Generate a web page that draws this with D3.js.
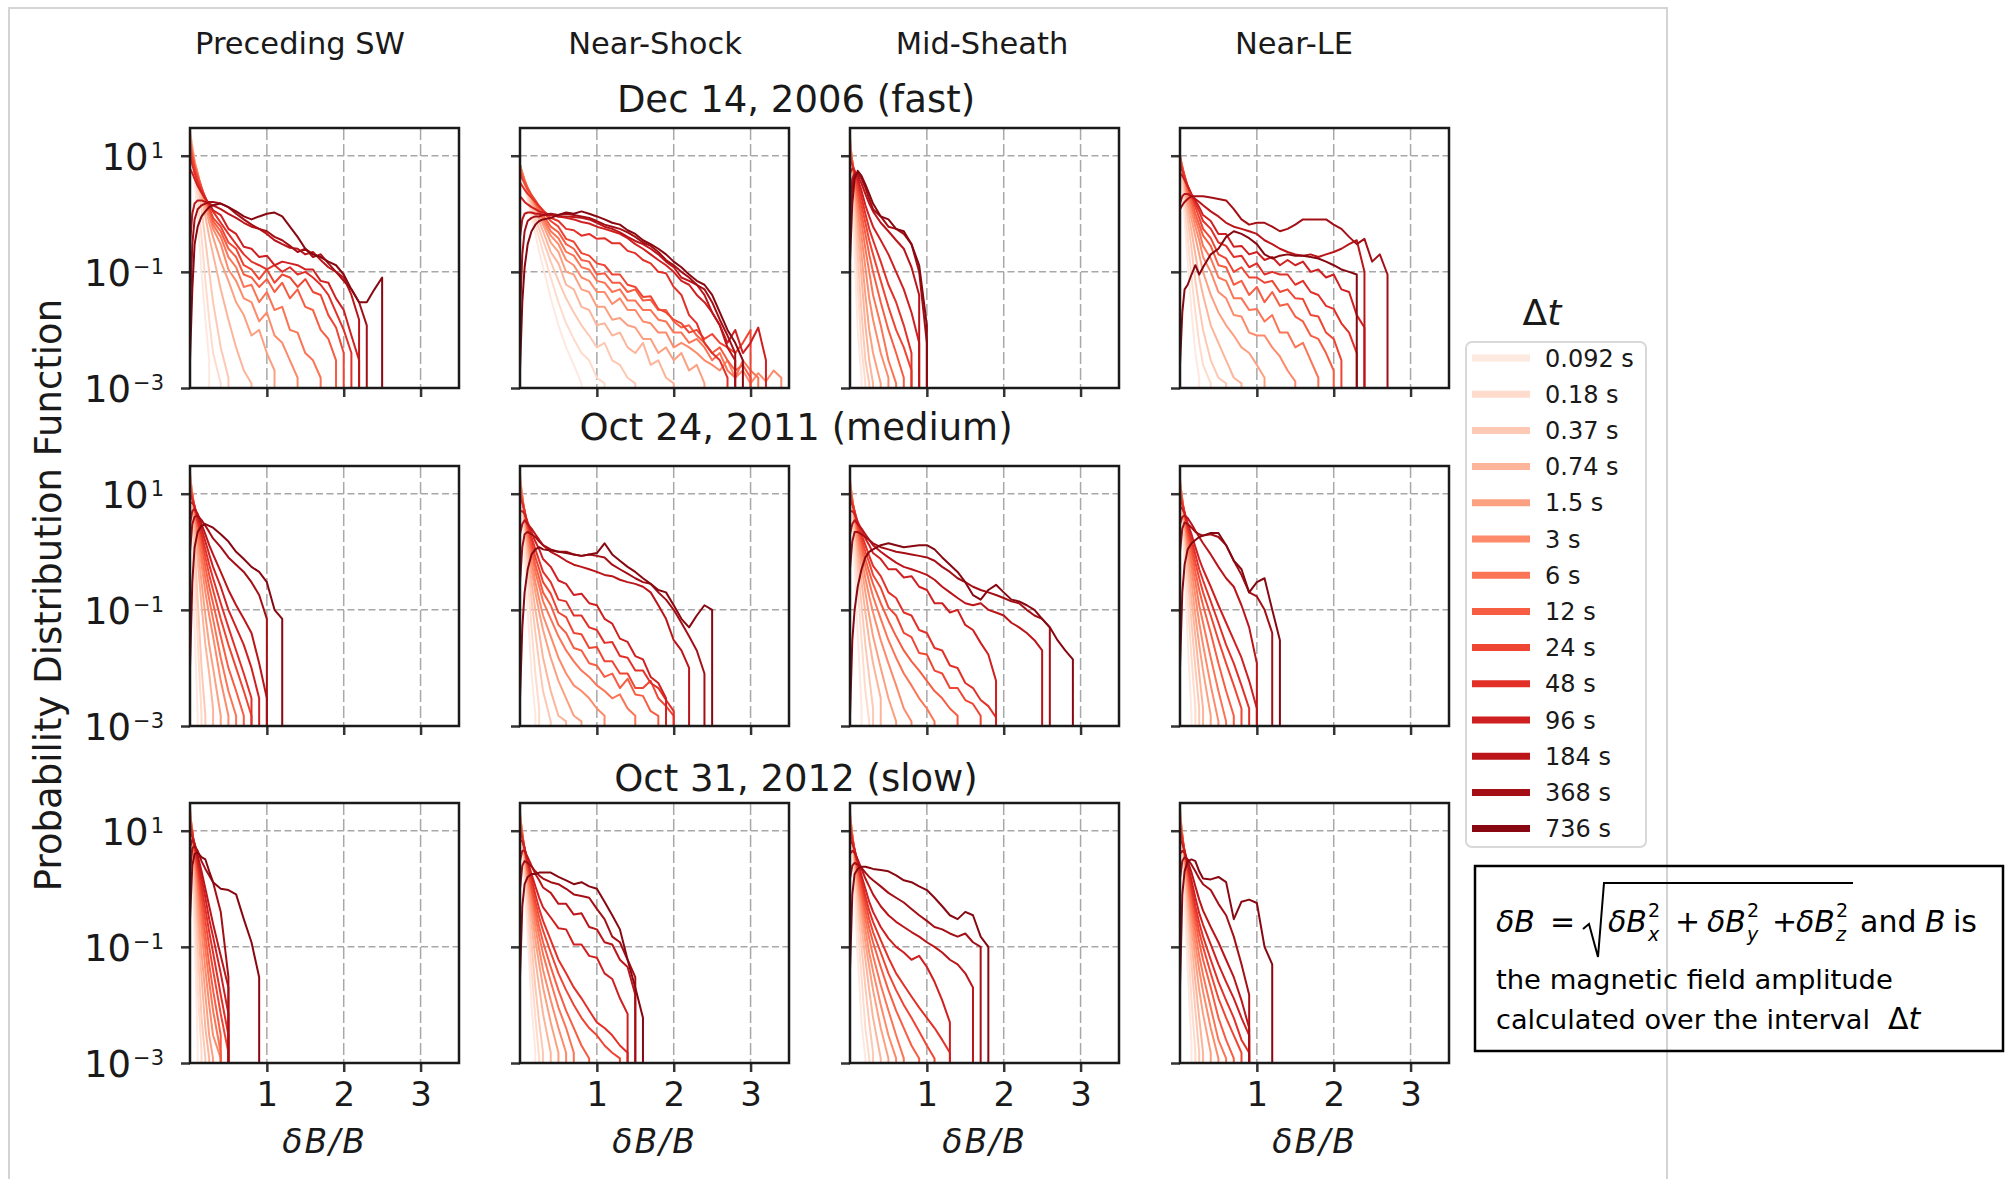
<!DOCTYPE html>
<html>
<head>
<meta charset="utf-8">
<script src="https://cdn.jsdelivr.net/npm/d3@7"></script>
<style>
body { margin: 0; background: #fff; }
text { font-family: "DejaVu Sans", sans-serif; fill: #1a1a1a; }
</style>
</head>
<body>
<svg id="chart" width="2006" height="1179"></svg>
<script>
const columns = ["Preceding SW", "Near-Shock", "Mid-Sheath", "Near-LE"];
const events = ["Dec 14, 2006 (fast)", "Oct 24, 2011 (medium)", "Oct 31, 2012 (slow)"];
const dtLabels = ["0.092 s", "0.18 s", "0.37 s", "0.74 s", "1.5 s", "3 s", "6 s",
  "12 s", "24 s", "48 s", "96 s", "184 s", "368 s", "736 s"];
const xTicks = [1, 2, 3];
const yTicks = [1e1, 1e-1, 1e-3];

// dB/B bin positions shared by every curve (PDF values below are read at these bins)
const bins = [0, .03, .06, .1, .15, .2, .25, .3, .4, .5, .6, .7, .8, .9, 1, 1.1, 1.2, 1.3, 1.4,
  1.5, 1.6, 1.7, 1.8, 1.9, 2, 2.1, 2.2, 2.3, 2.4, 2.5, 2.6, 2.7, 2.8, 2.9, 3, 3.1, 3.2, 3.3, 3.4];

// PDF per Δt (0.092 s ... 736 s); a curve stops where the histogram runs out of counts
const dec06SW = [
  [30,12,4,.9,.1,.015,.003],
  [28,14,6,2,.4,.07,.015,.004,.0012],
  [26,15,8,3.5,1.2,.35,.1,.03,.005,.0015],
  [24,14,8,4.5,2,.9,.4,.2,.05,.015,.005,.002,.0012],
  [22,13,8,5,2.5,1.3,.7,.4,.15,.07,.03,.018,.008,.01,.004,.002],
  [20,12,7.5,5,2.8,1.6,.9,.55,.3,.11,.07,.035,.03,.014,.02,.008,.006,.003,.0015],
  [18,11,7,4.5,2.8,1.7,1.1,.65,.4,.18,.12,.055,.06,.03,.045,.022,.025,.01,.009,.004,.003,.0015],
  [16,10,6.5,4.5,2.8,1.8,1.2,.75,.5,.25,.18,.09,.08,.055,.075,.045,.065,.035,.05,.025,.022,.01,.007,.003],
  [13,9,6,4,2.8,1.9,1.3,.85,.6,.32,.25,.13,.11,.075,.11,.065,.09,.08,.055,.075,.045,.04,.018,.011,.004],
  [10,7,5,3.5,2.5,1.9,1.4,1.1,.7,.45,.3,.2,.15,.13,.11,.13,.1,.12,.09,.1,.08,.06,.04,.02,.01,.004],
  [6,5,4,3,2.3,1.8,1.5,1.15,.95,.55,.45,.27,.25,.18,.19,.13,.15,.14,.13,.11,.11,.07,.065,.035,.022,.008,.003],
  [.3,1,1.5,1.7,1.7,1.6,1.5,1.4,1.2,1,.85,.7,.6,.55,.45,.35,.3,.26,.25,.2,.22,.16,.12,.1,.08,.04,.015],
  [.02,.3,.8,1.2,1.4,1.5,1.6,1.6,1.5,1.3,1,.8,.65,.55,.5,.4,.35,.28,.22,.25,.18,.2,.14,.1,.07,.05,.03,.012],
  [.003,.05,.3,.6,.9,1.1,1.3,1.4,1.5,1.3,1.1,.9,.8,.9,1,1.05,.9,.6,.4,.25,.2,.18,.15,.13,.09,.05,.03,.03,.05,.08]
];
const dec06Shock = [
  [7,4.5,3,1.7,.9,.45,.22,.12,.035,.012,.005,.0025,.0012],
  [7,4.8,3.3,2,1.1,.65,.38,.22,.08,.03,.013,.007,.004,.003,.0015,.0012],
  [7,5,3.5,2.3,1.4,.85,.55,.35,.15,.07,.035,.02,.012,.008,.005,.006,.003,.0025,.0015,.0012],
  [7,5,3.6,2.5,1.6,1.1,.75,.5,.22,.14,.06,.05,.025,.022,.012,.013,.008,.009,.005,.004,.006,.0025,.003,.0015,.0012],
  [7,5,3.7,2.6,1.8,1.3,.9,.65,.32,.22,.1,.09,.05,.045,.025,.025,.015,.016,.012,.011,.007,.007,.004,.005,.003,.004,.002,.0025,.0012],
  [7,5,3.8,2.7,1.9,1.4,1,.75,.42,.3,.16,.13,.08,.07,.045,.045,.028,.035,.022,.022,.014,.013,.009,.009,.005,.006,.005,.004,.003,.0025,.002,.003,.0015,.002,.0012,.0018,.0013,.002,.0015],
  [6.5,5,3.8,2.8,2,1.5,1.1,.85,.5,.38,.22,.19,.12,.11,.07,.065,.045,.05,.032,.032,.022,.022,.015,.014,.009,.009,.006,.007,.005,.003,.004,.002,.0015,.003,.002,.0015],
  [6,4.5,3.6,2.8,2.1,1.6,1.2,.95,.6,.48,.3,.25,.16,.15,.09,.095,.065,.065,.045,.05,.032,.033,.022,.022,.014,.011,.012,.008,.006,.004,.005,.003,.002,.0025,.0015],
  [5,4,3.3,2.6,2.1,1.7,1.35,1.1,.75,.6,.37,.33,.21,.19,.14,.13,.09,.09,.06,.055,.037,.038,.023,.02,.015,.013,.009,.01,.007,.0085,.006,.005,.004,.006,.01],
  [3.5,3,2.6,2.2,1.9,1.6,1.35,1.15,.85,.75,.55,.52,.42,.45,.37,.38,.31,.31,.23,.21,.16,.14,.1,.095,.055,.04,.018,.013,.006,.004,.003,.0015],
  [2,1.8,1.6,1.45,1.3,1.2,1.1,1.05,.95,.9,.85,.8,.72,.68,.6,.55,.5,.45,.38,.3,.25,.2,.16,.13,.1,.07,.06,.04,.03,.02,.012,.006,.01,.004,.006,.011,.003],
  [.4,.8,1,1.05,1.05,1,1,.95,.95,.9,.9,.88,.85,.8,.7,.6,.55,.48,.4,.34,.3,.25,.2,.15,.12,.08,.07,.06,.04,.02,.012,.005,.003],
  [.02,.2,.5,.75,.85,.9,.9,.95,1,.95,1,.95,.9,.85,.75,.65,.6,.55,.48,.4,.32,.28,.22,.16,.13,.1,.08,.06,.05,.03,.015,.008,.004],
  [.002,.03,.12,.3,.5,.65,.75,.8,.85,.95,1.05,1,1.1,1,.9,.8,.7,.65,.52,.45,.35,.3,.25,.2,.15,.12,.09,.07,.06,.04,.02,.01,.006,.003]
];
const dec06Sheath = [
  [25,3,.2,.01,.0015],
  [24,5,.8,.06,.005,.0012],
  [22,6,1.5,.2,.02,.003,.0012],
  [20,7,2.5,.5,.08,.012,.003,.0012],
  [18,7.5,3,.9,.2,.04,.01,.004,.0012],
  [16,8,3.5,1.3,.4,.12,.035,.015,.004,.0015],
  [14,8,4,1.8,.7,.25,.1,.04,.012,.003,.0012],
  [12,8,4.5,2.2,1,.45,.2,.1,.03,.01,.004,.0015],
  [10,7.5,5,2.8,1.4,.7,.35,.2,.07,.025,.01,.005,.002],
  [8,7,5.5,3.5,1.9,1,.55,.35,.15,.06,.03,.012,.004],
  [5,6,5.5,4,2.5,1.4,.9,.6,.35,.2,.1,.05,.02,.006],
  [2,4,5,4.5,3.3,2.2,1.5,1.1,.7,.5,.35,.25,.12,.04],
  [.8,3,4.5,5,4,2.8,1.8,1.2,.9,.6,.55,.45,.3,.1,.006],
  [.15,1.5,4,5.5,4.5,3.2,2.2,1.5,.9,.8,.55,.5,.3,.13,.012]
];
const dec06LE = [
  [10,3,.8,.15,.02,.004,.0015],
  [10,4,1.5,.4,.08,.02,.006,.0025,.0012],
  [10,5,2.2,.8,.25,.07,.025,.01,.003,.0015,.0012],
  [10,5.5,3,1.2,.5,.2,.08,.04,.012,.006,.003,.0015,.0012],
  [10,6,3.5,1.6,.8,.4,.2,.1,.04,.02,.012,.008,.005,.004,.0025,.0015],
  [10,6,4,2,1.1,.6,.35,.18,.1,.045,.035,.018,.017,.009,.008,.008,.005,.0035,.002,.0013],
  [10,6.5,4.2,2.4,1.4,.8,.5,.28,.17,.08,.07,.035,.035,.022,.023,.014,.018,.009,.009,.005,.006,.003,.0015],
  [9,6.5,4.5,2.7,1.7,1,.65,.42,.28,.13,.12,.06,.07,.04,.055,.03,.045,.026,.028,.017,.014,.008,.007,.004,.002],
  [8,6,4.5,3,2,1.3,.85,.55,.38,.2,.17,.1,.12,.08,.08,.065,.07,.045,.05,.035,.034,.018,.017,.009,.007,.003],
  [7,5.5,4.2,3,2.1,1.5,1.1,.75,.55,.32,.28,.18,.19,.12,.14,.09,.1,.09,.09,.06,.07,.045,.04,.026,.023,.013,.009,.004],
  [5,4.5,3.8,3,2.2,1.7,1.3,.95,.75,.45,.45,.27,.28,.2,.22,.16,.18,.13,.16,.13,.15,.1,.11,.08,.09,.05,.045,.018,.011],
  [1.5,2,2.2,2.2,2,1.8,1.6,1.4,1.1,.9,.7,.6,.55,.5,.45,.35,.3,.25,.22,.2,.19,.2,.18,.2,.22,.25,.3,.35,.1],
  [1.2,1.4,1.6,1.8,2,2,2,2,1.9,1.8,1.7,1.2,.8,.65,.7,.7,.6,.5,.55,.65,.8,.8,.8,.8,.65,.55,.4,.3,.37,.15,.2,.09],
  [.0025,.02,.05,.06,.09,.13,.09,.12,.2,.25,.4,.5,.45,.38,.3,.2,.17,.19,.2,.19,.19,.18,.17,.15,.13,.11,.1,.09]
];
const oct11SW = [
  [25,3,.05,.0015],
  [25,6,.6,.03,.0015],
  [24,8,1.5,.15,.01,.0015],
  [22,10,3,.7,.12,.025,.008,.002],
  [20,10,4,1.2,.3,.08,.025,.01,.0015],
  [18,10,5,1.8,.6,.2,.08,.035,.006,.0015],
  [16,10,5.5,2.3,.9,.35,.15,.07,.015,.004,.0015],
  [14,9,6,2.8,1.3,.55,.25,.13,.035,.01,.004,.0015],
  [12,9,6,3.2,1.7,.8,.4,.22,.07,.025,.01,.004,.0015],
  [10,8,6,3.5,2,1.1,.6,.35,.13,.05,.02,.008,.003],
  [7,7,6,4,2.5,1.5,.9,.55,.25,.1,.05,.025,.01,.003],
  [3,5,5.5,4.5,3,2,1.3,.9,.45,.22,.12,.07,.04,.012,.003],
  [1,3,4,4.2,3.5,2.8,2.2,1.7,1.2,.8,.6,.45,.3,.18,.07],
  [.01,.3,1.2,2.2,2.8,3,2.8,2.6,2,1.5,1,.75,.55,.45,.3,.1,.07]
];
const oct11Shock = [
  [25,5,1,.1,.008,.0015],
  [24,7,2,.35,.05,.008,.002],
  [22,8,3,.7,.15,.04,.012,.004,.0012],
  [20,9,3.5,1.1,.3,.1,.04,.015,.004,.0015,.0012],
  [18,9,4,1.5,.5,.2,.09,.045,.015,.006,.003,.0015,.0012],
  [16,9,4.5,1.8,.7,.3,.15,.08,.035,.015,.008,.005,.004,.003,.002,.0015],
  [14,8.5,5,2.2,1,.45,.25,.14,.07,.035,.02,.013,.009,.007,.005,.004,.003,.0035,.002,.0015],
  [12,8,5,2.5,1.2,.6,.35,.2,.12,.055,.04,.022,.02,.012,.011,.007,.008,.0045,.0065,.0035,.0033,.0018,.0015],
  [10,7.5,5,2.8,1.5,.8,.5,.3,.19,.09,.075,.04,.038,.022,.023,.013,.013,.008,.008,.0045,.0045,.006,.003,.0022,.0015],
  [8,7,5,3,1.8,1.1,.7,.45,.3,.15,.14,.08,.08,.05,.045,.027,.028,.016,.015,.009,.009,.0055,.0045,.0028,.0018],
  [5,5,4.5,3.2,2.2,1.5,1.1,.75,.55,.32,.28,.18,.19,.13,.12,.07,.058,.032,.028,.016,.014,.007,.0055,.003],
  [2,3,3.5,3,2.5,2,1.6,1.3,1,.85,.7,.6,.55,.5,.45,.4,.38,.33,.3,.28,.25,.2,.12,.07,.03,.02,.01],
  [.3,1.2,2,2.2,2,1.8,1.5,1.3,1.1,1,1,.9,.85,.9,.85,.8,.6,.5,.42,.35,.3,.28,.2,.15,.1,.06,.035,.02,.008],
  [.003,.05,.2,.5,.9,1.1,1.2,1.1,1.05,1,.95,.9,.85,.9,.95,1.4,.9,.7,.55,.45,.35,.28,.22,.2,.12,.07,.05,.08,.12,.1]
];
const oct11Sheath = [
  [19,4,.6,.04,.002],
  [19,6,1.5,.25,.03,.004,.0012],
  [18,7,2.5,.6,.12,.025,.007,.002],
  [17,8,3.2,1,.3,.09,.03,.012,.003],
  [16,8,3.8,1.4,.55,.2,.08,.035,.01,.003,.0012],
  [15,8,4.2,1.8,.8,.35,.17,.09,.03,.012,.005,.002,.0012],
  [14,8,4.5,2.2,1.1,.55,.3,.17,.07,.03,.015,.008,.005,.003,.002,.0012],
  [12,7.5,4.8,2.5,1.4,.75,.45,.28,.13,.065,.035,.02,.013,.009,.006,.004,.003,.002,.0015],
  [10,7,5,2.8,1.7,1,.65,.4,.24,.11,.08,.04,.034,.018,.017,.009,.008,.0045,.0045,.0028,.0024,.0015],
  [8,6.5,5,3.2,2,1.3,.85,.57,.38,.2,.16,.09,.08,.045,.04,.022,.02,.011,.01,.0055,.0045,.0028,.0022,.0014],
  [5,5,4.5,3.3,2.4,1.7,1.3,.95,.75,.5,.5,.36,.38,.25,.22,.13,.13,.09,.1,.055,.045,.027,.017,.006],
  [2,3,3.5,3,2.5,2,1.6,1.3,1,.8,.65,.55,.5,.45,.4,.33,.25,.2,.16,.13,.12,.13,.1,.09,.08,.06,.05,.04,.03,.02],
  [.5,1.5,2.2,2.2,2,1.8,1.6,1.4,1.2,1.1,1,.95,.9,.85,.8,.7,.55,.45,.35,.3,.25,.22,.2,.18,.16,.14,.13,.1,.08,.07,.05],
  [.0015,.03,.1,.25,.5,.8,1,1.1,1.3,1.4,1.3,1.2,1.25,1.3,1.3,1.1,.8,.6,.45,.3,.18,.15,.22,.27,.2,.15,.14,.12,.1,.07,.05,.03,.02,.014]
];
const oct11LE = [
  [19,4,.5,.03,.0015],
  [19,5.5,1.2,.15,.015,.002],
  [18,6.5,2,.4,.06,.01,.002],
  [17,7.5,2.8,.7,.15,.035,.008,.002],
  [16,8,3.3,1,.3,.08,.025,.009,.0015],
  [15,8,3.8,1.3,.5,.17,.06,.025,.005,.0012],
  [14,8,4.2,1.7,.7,.3,.12,.06,.015,.004,.0012],
  [12,7.5,4.5,2,1,.45,.22,.12,.04,.012,.004,.0015],
  [10,7,4.7,2.4,1.3,.65,.35,.2,.08,.03,.012,.005,.002],
  [8,6.5,4.8,2.8,1.6,.9,.5,.32,.14,.06,.025,.012,.005,.002],
  [6,5.5,4.6,3.1,2,1.2,.75,.5,.25,.12,.06,.03,.015,.006,.002],
  [3,4,4.2,3.8,3,2.3,1.8,1.4,.9,.55,.35,.25,.12,.05,.012],
  [1,2.5,3.2,3,2.6,2.2,2,1.9,2,1.8,1.3,.7,.4,.2,.17,.1,.04],
  [.01,.2,.6,1.1,1.4,1.6,1.8,1.9,2.1,2.1,1.3,.7,.5,.2,.3,.35,.1,.03]
];
const oct12SW = [
  [26,3,.15,.002],
  [26,5,.5,.02,.0015],
  [25,7,1.2,.1,.006,.0012],
  [24,8,2,.3,.03,.004,.0012],
  [22,9,3,.6,.08,.015,.003,.0012],
  [20,10,3.5,1,.2,.04,.01,.003,.0012],
  [18,10,4,1.4,.35,.09,.025,.008,.0015],
  [16,10,4.5,1.8,.55,.16,.05,.018,.003],
  [14,9.5,5,2.2,.8,.28,.1,.04,.007,.0015],
  [12,9,5.5,2.7,1.1,.45,.18,.08,.015,.003],
  [9,8,6,3.2,1.5,.7,.3,.15,.035,.007],
  [5,7,6,3.8,2,1,.5,.25,.07,.02],
  [2,5,5.5,4.5,3,2.2,1.7,1.3,.4,.03],
  [.3,2.5,4,4.2,3.5,3.2,2,1.3,1,.95,.8,.3,.12,.03]
];
const oct12Shock = [
  [22,6,1.2,.15,.01,.0015],
  [22,7,2,.35,.04,.006,.0012],
  [21,8,2.8,.65,.11,.02,.005,.0015],
  [20,8.5,3.4,1,.25,.06,.02,.007,.0015],
  [19,9,4,1.3,.4,.13,.05,.02,.005,.0015],
  [18,9,4.3,1.6,.6,.22,.09,.04,.012,.004,.0015],
  [16,9,4.6,1.9,.8,.33,.15,.075,.025,.009,.004,.0015],
  [14,8.5,4.8,2.2,1,.45,.22,.12,.045,.018,.008,.004,.002,.0012],
  [12,8,5,2.5,1.2,.6,.32,.19,.08,.035,.018,.01,.006,.004,.003,.002,.0015,.0012],
  [10,7.5,5,2.8,1.5,.8,.45,.28,.13,.06,.035,.02,.013,.008,.005,.004,.003,.002,.0015],
  [7,6.5,5,3,1.8,1.1,.7,.48,.32,.21,.2,.11,.11,.07,.065,.035,.028,.013,.007],
  [3,4.5,4.5,3.5,2.5,1.8,1.4,1.05,.85,.55,.55,.36,.38,.22,.2,.12,.11,.06,.045,.015],
  [1,2.5,3,2.8,2.4,2,1.7,1.5,1.3,1.2,1,.8,.75,.7,.45,.3,.15,.12,.06,.03],
  [.03,.5,1.2,1.6,1.8,1.8,1.9,1.9,1.9,1.6,1.4,1.2,1.3,1.1,1,.6,.35,.2,.06,.02,.006]
];
const oct12Sheath = [
  [22,5,.8,.07,.005,.0012],
  [22,6.5,1.7,.25,.03,.004,.0012],
  [21,7.5,2.5,.55,.1,.02,.005,.0015],
  [20,8,3.2,.9,.22,.06,.018,.006,.0012],
  [19,8.5,3.7,1.2,.38,.12,.045,.018,.004,.0012],
  [18,8.5,4,1.5,.55,.2,.08,.038,.01,.003,.0012],
  [16,8.5,4.3,1.8,.75,.3,.14,.07,.022,.008,.003,.0012],
  [14,8,4.5,2.1,.95,.42,.21,.12,.045,.018,.008,.004,.002,.0012],
  [12,7.5,4.7,2.4,1.2,.58,.3,.18,.08,.035,.018,.01,.006,.0035,.002,.0012],
  [10,7,4.8,2.7,1.4,.75,.42,.27,.13,.065,.035,.022,.014,.009,.006,.004,.0025,.0015],
  [7,6,4.6,3,1.7,1,.6,.4,.22,.14,.1,.08,.06,.07,.045,.025,.012,.005],
  [4,4.5,4.2,3.2,2.2,1.5,1.1,.8,.5,.35,.27,.22,.18,.15,.12,.1,.08,.06,.05,.035,.02],
  [1.5,2.5,2.8,2.6,2.3,1.9,1.6,1.4,1.1,.85,.7,.58,.45,.35,.28,.22,.2,.17,.15,.17,.12,.1],
  [.04,.8,1.8,2.2,2.4,2.4,2.3,2.2,2.1,2,1.7,1.4,1.3,1.1,.95,.7,.5,.35,.3,.4,.35,.15,.1]
];
const oct12LE = [
  [26,5,.6,.04,.002],
  [25,6.5,1.3,.15,.012,.0015],
  [24,7.5,2,.35,.05,.008,.0015],
  [22,8,2.8,.6,.12,.025,.006,.0015],
  [20,8.5,3.3,.9,.22,.06,.018,.007,.0015],
  [18,8.5,3.7,1.2,.35,.11,.04,.017,.004,.0012],
  [16,8.5,4,1.5,.5,.18,.07,.033,.009,.0025,.0012],
  [14,8,4.2,1.8,.7,.27,.12,.06,.02,.006,.0025,.0012],
  [12,7.5,4.4,2.1,.9,.38,.18,.1,.035,.013,.006,.003,.0015],
  [10,7,4.5,2.4,1.1,.5,.26,.15,.06,.025,.012,.006,.0025,.0015],
  [7,6,4.5,2.7,1.4,.7,.38,.24,.11,.05,.025,.013,.006,.003],
  [4,4.5,4.2,3,1.9,1.1,.65,.42,.22,.12,.06,.03,.012,.004],
  [1.5,3,3.5,3.2,2.6,2,1.5,1.2,.95,.55,.35,.15,.05,.015],
  [.02,.8,2,3,3.2,3,2,1.5,1.45,1.6,1.3,.3,.6,.65,.57,.1,.05]
];

const panels = [
  [dec06SW, dec06Shock, dec06Sheath, dec06LE],
  [oct11SW, oct11Shock, oct11Sheath, oct11LE],
  [oct12SW, oct12Shock, oct12Sheath, oct12LE]
];

const svg = d3.select("#chart");
const color = i => d3.interpolateReds((i + 1) / (dtLabels.length + 1));

// light frame around the figure
svg.append("rect")
  .attr("x", 9).attr("y", 8).attr("width", 1658).attr("height", 1200)
  .attr("fill", "none").attr("stroke", "#d4d4d4").attr("stroke-width", 2);

const panelLeft = [190, 520, 850, 1180];
const panelTop = [128, 466, 803];
const pw = 269, ph = 260;

const x = d3.scaleLinear().domain([0, 3.5]).range([0, pw]);
const y = d3.scaleLog().domain([1e-3, 30]).range([ph, 0]);
const line = d3.line().x(d => x(d[0])).y(d => y(d[1]));

svg.append("defs").append("clipPath").attr("id", "clip")
  .append("rect").attr("width", pw).attr("height", ph);

const sup = v => {
  const e = Math.round(Math.log10(v));
  return (e < 0 ? "\u2212" : "") + Math.abs(e);
};

panels.forEach((row, r) => row.forEach((curves, c) => {
  const g = svg.append("g")
    .attr("transform", "translate(" + panelLeft[c] + "," + panelTop[r] + ")");

  // grid
  g.selectAll(".hgrid").data(yTicks.slice(0, 2)).enter().append("line")
    .attr("x1", 0).attr("x2", pw)
    .attr("y1", d => y(d)).attr("y2", d => y(d))
    .attr("stroke", "#a8a8a8").attr("stroke-width", 1.5).attr("stroke-dasharray", "7,3.5");
  g.selectAll(".vgrid").data(xTicks).enter().append("line")
    .attr("x1", d => x(d)).attr("x2", d => x(d))
    .attr("y1", 0).attr("y2", ph)
    .attr("stroke", "#a8a8a8").attr("stroke-width", 1.5).attr("stroke-dasharray", "12,4");

  // one line per Δt, dropping vertically where the counts end
  g.append("g").attr("clip-path", "url(#clip)")
    .selectAll("path").data(curves).enter().append("path")
    .attr("d", vals => {
      const pts = vals.map((v, k) => [bins[k], v]);
      pts.push([bins[vals.length - 1], 1e-6]);
      return line(pts);
    })
    .attr("fill", "none")
    .attr("stroke", (d, i) => color(i))
    .attr("stroke-width", 2)
    .attr("stroke-linejoin", "round");

  // axes
  const xAxis = g.append("g")
    .attr("transform", "translate(0," + ph + ")")
    .call(d3.axisBottom(x).tickValues(xTicks).tickSize(9).tickPadding(10)
      .tickFormat(r === 2 ? d3.format("d") : ""));
  const yAxis = g.append("g")
    .call(d3.axisLeft(y).tickValues(yTicks).tickSize(9).tickFormat(""));
  [xAxis, yAxis].forEach(a => {
    a.select(".domain").remove();
    a.selectAll(".tick line").attr("stroke", "#333").attr("stroke-width", 2.5);
    a.selectAll("text").attr("font-size", 34).attr("font-family", "DejaVu Sans").attr("fill", "#1a1a1a");
  });

  if (c === 0) {
    yTicks.forEach(v => {
      const t = g.append("text")
        .attr("x", -26).attr("y", y(v) + 14)
        .attr("text-anchor", "end").attr("font-size", 37);
      t.append("tspan").text("10");
      t.append("tspan").attr("dx", 2).attr("dy", -12).attr("font-size", 21).text(sup(v));
    });
  }

  g.append("rect")
    .attr("width", pw).attr("height", ph)
    .attr("fill", "none").attr("stroke", "#1a1a1a").attr("stroke-width", 2.5);

  if (r === 2) {
    g.append("text")
      .attr("x", pw / 2).attr("y", 1153 - panelTop[r])
      .attr("text-anchor", "middle").attr("font-size", 33)
      .attr("font-style", "italic").attr("letter-spacing", 2)
      .text("\u03b4B/B");
  }
}));

// column and row titles
const colTitleX = [300, 655, 982, 1294];
svg.selectAll(".coltitle").data(columns).enter().append("text")
  .attr("x", (d, i) => colTitleX[i]).attr("y", 54)
  .attr("text-anchor", "middle").attr("font-size", 30.5)
  .text(d => d);

const rowTitleY = [112, 440, 791];
svg.selectAll(".rowtitle").data(events).enter().append("text")
  .attr("x", 796).attr("y", (d, i) => rowTitleY[i])
  .attr("text-anchor", "middle").attr("font-size", 37)
  .text(d => d);

svg.append("text")
  .attr("transform", "translate(61,595) rotate(-90)")
  .attr("text-anchor", "middle").attr("font-size", 37)
  .text("Probability Distribution Function");

// legend
const legend = svg.append("g").attr("transform", "translate(1466,342)");
legend.append("rect")
  .attr("width", 180).attr("height", 505).attr("rx", 6)
  .attr("fill", "#fff").attr("stroke", "#d8d8d8").attr("stroke-width", 2);
const entry = legend.selectAll(".entry").data(dtLabels).enter().append("g")
  .attr("transform", (d, i) => "translate(0," + (16 + i * 36.2) + ")");
entry.append("line")
  .attr("x1", 6).attr("x2", 64)
  .attr("stroke", (d, i) => color(i)).attr("stroke-width", 7);
entry.append("text")
  .attr("x", 79).attr("y", 8.5).attr("font-size", 24).attr("fill", "#262626")
  .text(d => d);

const lt = svg.append("text")
  .attr("x", 1542).attr("y", 325).attr("text-anchor", "middle").attr("font-size", 36);
lt.append("tspan").text("\u0394");
lt.append("tspan").attr("font-style", "italic").text("t");

// definition box
const box = svg.append("g");
box.append("rect")
  .attr("x", 1475).attr("y", 866).attr("width", 528).attr("height", 185)
  .attr("fill", "none").attr("stroke", "#000").attr("stroke-width", 2.5);

const serif = (xp, yp, txt, size, italic) => box.append("text")
  .attr("x", xp).attr("y", yp).attr("font-size", size)
  .attr("font-family", "DejaVu Serif").attr("font-style", italic ? "italic" : "normal")
  .style("fill", "#000").text(txt);
const sans = (xp, yp, txt) => box.append("text")
  .attr("x", xp).attr("y", yp).attr("font-size", 30)
  .attr("font-family", "Lato").style("fill", "#000").text(txt);

serif(1496, 932, "\u03b4B", 30, true);
serif(1550, 932, "=", 30, false);
box.append("path")
  .attr("d", "M1583,929 L1589,924 L1598,957 L1604,883 L1853,883")
  .attr("fill", "none").attr("stroke", "#000").attr("stroke-width", 2);
[["x", 1608], ["y", 1707], ["z", 1796]].forEach(([s, xp]) => {
  serif(xp, 932, "\u03b4B", 30, true);
  serif(xp + 40, 917, "2", 19, false);
  serif(xp + 40, 941, s, 19, true);
});
serif(1675, 932, "+", 30, false);
serif(1772, 932, "+", 30, false);
sans(1860, 932, "and");
serif(1925, 932, "B", 30, true);
sans(1953, 932, "is");
const l2 = sans(1496, 989, "the magnetic field amplitude");
const l3 = sans(1496, 1029, "calculated over the interval");
[[l2, 397], [l3, 374]].forEach(([t, w]) => {
  const cur = t.node().getComputedTextLength();
  t.attr("font-size", 30 * w / cur);
});
const dtx = box.append("text").attr("x", 1888).attr("y", 1029)
  .attr("font-size", 30).attr("font-family", "DejaVu Serif").style("fill", "#000");
dtx.append("tspan").text("\u0394");
dtx.append("tspan").attr("font-style", "italic").text("t");
</script>
</body>
</html>
